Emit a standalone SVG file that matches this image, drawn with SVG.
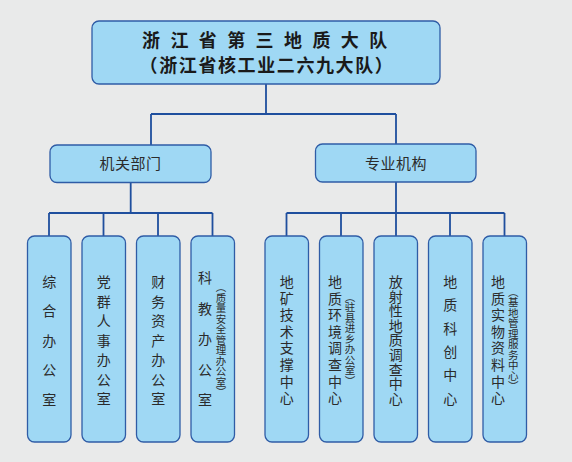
<svg xmlns="http://www.w3.org/2000/svg" width="572" height="462" viewBox="0 0 572 462">
<style>
.box{fill:#9fd8f4;stroke:#2f5ca6;stroke-width:1.3}
.ln{fill:none;stroke:#1f4f9e;stroke-width:1.8}
text{font-family:"Noto Sans CJK SC","Noto Sans",sans-serif;fill:#2b2b2b}
.t{font-weight:bold;font-size:18px;fill:#1a1a1a}
.m{font-size:15px;text-anchor:middle}
.v{font-size:14px;writing-mode:vertical-rl}
.s{font-size:10.5px;writing-mode:vertical-rl}
</style>
<rect width="572" height="462" fill="#e9eaea"/>
<g id="connectors">
<path class="ln" d="M266 84V114M151 114H396M151 114V145M396 114V144"/>
<path class="ln" d="M130.7 183V213M49 213H212.5M49 213V236M103.5 213V236M158 213V236M212.5 213V236"/>
<path class="ln" d="M396 182V213M286.5 213H504.5M286.5 213V236M341 213V236M396 213V236M450 213V236M504.5 213V236"/>
</g>
<g id="root">
<rect class="box" x="92" y="21" width="348" height="63" rx="7"/>
<text class="t" x="142" y="47" style="letter-spacing:10.4px">浙江省第三地质大队</text>
<text class="t" x="267" y="72" text-anchor="middle" style="letter-spacing:1.6px">（浙江省核工业二六九大队）</text>
</g>
<g id="jiguan">
<rect class="box" x="50" y="145" width="161" height="37.5" rx="7"/>
<text class="m" x="130.5" y="169" style="letter-spacing:0.5px">机关部门</text>
</g>
<g id="zhuanye">
<rect class="box" x="315.5" y="144" width="160.5" height="38" rx="7"/>
<text class="m" x="396" y="169" style="letter-spacing:0.5px">专业机构</text>
</g>
<g id="n1">
<rect class="box" x="27.5" y="236" width="43.5" height="206" rx="7"/>
<text class="v" x="49.2" y="274.7" style="letter-spacing:15.4px">综合办公室</text>
</g>
<g id="n2">
<rect class="box" x="82" y="236" width="43.5" height="206" rx="7"/>
<text class="v" x="103.7" y="274.7" style="letter-spacing:5.5px">党群人事办公室</text>
</g>
<g id="n3">
<rect class="box" x="136.5" y="236" width="43.5" height="206" rx="7"/>
<text class="v" x="158.2" y="274.7" style="letter-spacing:5.5px">财务资产办公室</text>
</g>
<g id="n4">
<rect class="box" x="191" y="236" width="43.5" height="206" rx="7"/>
<text class="v" x="205" y="271" style="letter-spacing:16.5px">科教办公室</text>
<text class="s" x="221" y="282">（质量安全管理办公室）</text>
</g>
<g id="n5">
<rect class="box" x="265" y="236" width="43.5" height="206" rx="7"/>
<text class="v" x="286.7" y="274.7" style="letter-spacing:2.6px">地矿技术支撑中心</text>
</g>
<g id="n6">
<rect class="box" x="319.5" y="236" width="43.5" height="206" rx="7"/>
<text class="v" x="335" y="274.7" style="letter-spacing:2.6px">地质环境调查中心</text>
<text class="s" x="350" y="291.7">（驻县进乡办公室）</text>
</g>
<g id="n7">
<rect class="box" x="374" y="236" width="43.5" height="206" rx="7"/>
<text class="v" x="395.7" y="274.7" style="letter-spacing:0.6px">放射性地质调查中心</text>
</g>
<g id="n8">
<rect class="box" x="428.5" y="236" width="43.5" height="206" rx="7"/>
<text class="v" x="450.2" y="274.7" style="letter-spacing:9.3px">地质科创中心</text>
</g>
<g id="n9">
<rect class="box" x="483" y="236" width="43.5" height="206" rx="7"/>
<text class="v" x="498" y="274.7" style="letter-spacing:2.6px">地质实物资料中心</text>
<text class="s" x="513.3" y="286.7">（基地管理服务中心）</text>
</g>
</svg>
